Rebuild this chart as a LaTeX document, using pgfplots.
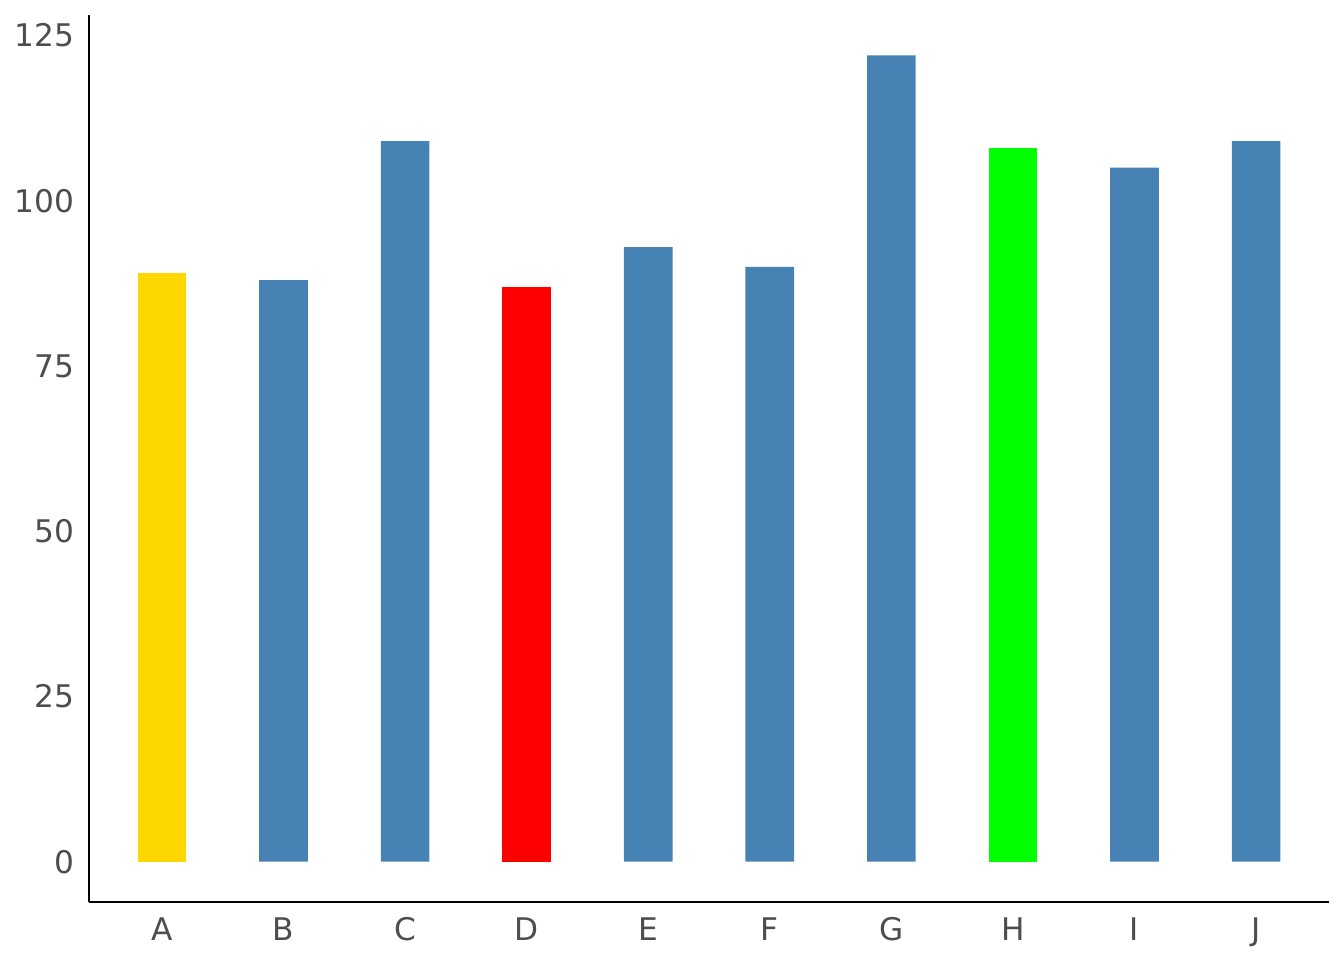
\documentclass[border=0pt]{standalone}
\usepackage{pgfplots}
\pgfplotsset{compat=1.18}
\usepackage{fontspec}
\setmainfont{DejaVu Sans}
\definecolor{textgrey}{HTML}{4D4D4D}
\definecolor{steel}{HTML}{4682B4}
\definecolor{gold}{HTML}{FFD700}
\definecolor{pureRed}{HTML}{FF0000}
\definecolor{pureGreen}{HTML}{00FF00}
\begin{document}
\begin{tikzpicture}
    \useasboundingbox (-33.375pt,-21.75pt) rectangle (470.625pt,338.25pt);
    \begin{axis}[
            at={(0,0)}, anchor=south west,
            scale only axis,
            width=465pt, height=332.625pt,
            xmin=0.4, xmax=10.6,
            ymin=-6.1, ymax=128.1,
            axis x line=bottom, axis y line=left,
            axis line style={-, black, line width=1pt},
            major tick length=0pt,
            xtick={1,...,10},
            xticklabels={A,B,C,D,E,F,G,H,I,J},
            ytick={0,25,50,75,100,125},
            /pgf/number format/assume math mode=true,
            tick label style={font=\fontsize{11.7}{14}\selectfont, text=textgrey, inner sep=0pt},
            yticklabel style={anchor=east, xshift=-5.3pt},
            xticklabel style={anchor=north, yshift=-5.6pt},
            ybar, bar width=0.4,
            every axis plot/.append style={bar shift=0pt, draw=none},
            clip=false,
        ]
        % steelblue bars
        \addplot[fill=steel] coordinates {
                (2,88) (3,109) (5,93) (6,90) (7,122) (9,105) (10,109)
            };
        \addplot[fill=gold] coordinates {(1,89)};
        \addplot[fill=pureRed] coordinates {(4,87)};
        \addplot[fill=pureGreen] coordinates {(8,108)};
    \end{axis}
\end{tikzpicture}
\end{document}
